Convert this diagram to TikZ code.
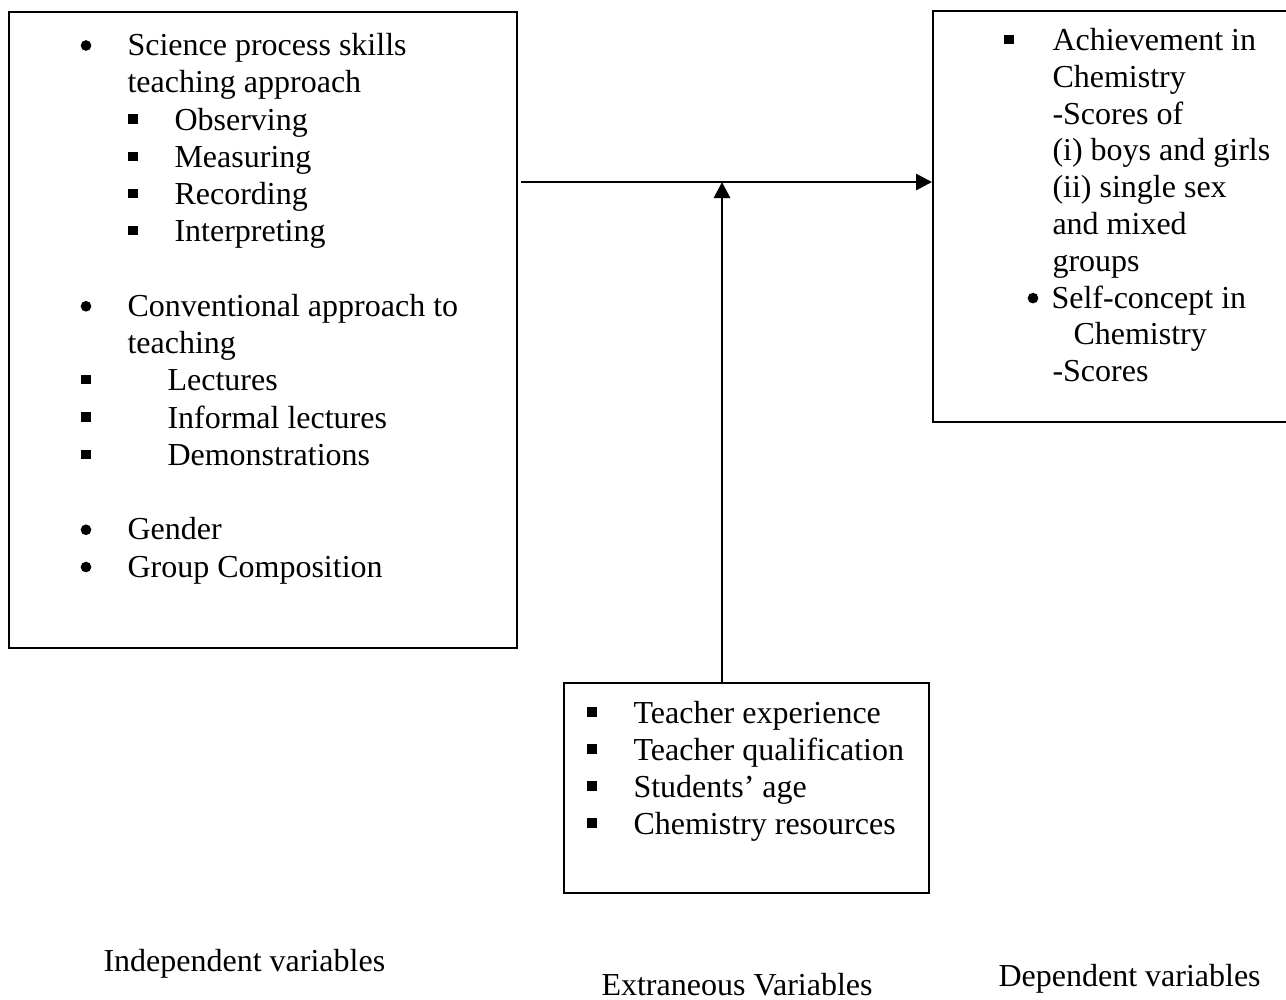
\documentclass[tikz,border=0pt]{standalone}
\usepackage{fontspec}
\setmainfont{Liberation Serif}
\usetikzlibrary{arrows.meta,positioning}
\pgfdeclarelayer{edgelayer}
\pgfdeclarelayer{nodelayer}
\pgfsetlayers{edgelayer,nodelayer,main}
\tikzstyle{none}=[inner sep=0mm]
\tikzstyle{txt}=[none,anchor=base west,font=\fontsize{12}{14}\selectfont]
\tikzstyle{box}=[draw=black,line width=0.75pt,shape=rectangle,inner sep=0pt]
\tikzstyle{bul}=[inner sep=0pt,minimum size=4pt,fill=black,shape=circle]
\tikzstyle{sqbul}=[inner sep=0pt,minimum size=3.4pt,fill=black,shape=rectangle]
\tikzstyle{arr}=[line width=1.1pt,-{Triangle[length=6pt,width=6pt]}]

\begin{document}
\begin{tikzpicture}[x=0.375pt,y=-0.375pt]
	\useasboundingbox (0,0) rectangle (1286,999);
	\begin{pgfonlayer}{nodelayer}
		% boxes
		\node [style=box, minimum width=190.5pt, minimum height=238.5pt] (ind) at (263, 330) {};
		\node [style=box, minimum width=137.6pt, minimum height=154.1pt] (dep) at (1116.5, 216.5) {};
		\node [style=box, minimum width=136.9pt, minimum height=78.75pt] (ext) at (746.5, 788) {};
		% independent variables
		\node [style=bul] (b1) at (86, 45.5) {};
		\node [style=txt] (i1) at (127, 55.5) {Science process skills};
		\node [style=txt] (i2) at (127, 92.75) {teaching approach};
		\node [style=sqbul] (s1) at (133, 119) {};
		\node [style=txt] (i3) at (174, 130) {Observing};
		\node [style=sqbul] (s2) at (133, 156.25) {};
		\node [style=txt] (i4) at (174, 167.25) {Measuring};
		\node [style=sqbul] (s3) at (133, 193.5) {};
		\node [style=txt] (i5) at (174, 204.5) {Recording};
		\node [style=sqbul] (s4) at (133, 230.75) {};
		\node [style=txt] (i6) at (174, 241.75) {Interpreting};
		\node [style=bul] (b2) at (86, 306.25) {};
		\node [style=txt] (i7) at (127, 316.25) {Conventional approach to};
		\node [style=txt] (i8) at (127, 353.5) {teaching};
		\node [style=sqbul] (s5) at (86, 379.75) {};
		\node [style=txt] (i9) at (167, 390.75) {Lectures};
		\node [style=sqbul] (s6) at (86, 417) {};
		\node [style=txt] (i10) at (167, 428) {Informal lectures};
		\node [style=sqbul] (s7) at (86, 454.25) {};
		\node [style=txt] (i11) at (167, 465.25) {Demonstrations};
		\node [style=bul] (b3) at (86, 529.75) {};
		\node [style=txt] (i12) at (127, 539.75) {Gender};
		\node [style=bul] (b4) at (86, 567) {};
		\node [style=txt] (i13) at (127, 577) {Group Composition};
		% dependent variables
		\node [style=sqbul] (s8) at (1009, 39.5) {};
		\node [style=txt] (d1) at (1052, 50.5) {Achievement in};
		\node [style=txt] (d2) at (1052, 87.3) {Chemistry};
		\node [style=txt] (d3) at (1052, 124.1) {-Scores of};
		\node [style=txt] (d4) at (1052, 160.9) {(i) boys and girls};
		\node [style=txt] (d5) at (1052, 197.7) {(ii) single sex};
		\node [style=txt] (d6) at (1052, 234.5) {and mixed};
		\node [style=txt] (d7) at (1052, 271.3) {groups};
		\node [style=bul] (b5) at (1033, 298.1) {};
		\node [style=txt] (d8) at (1051, 308.1) {Self-concept in};
		\node [style=txt] (d9) at (1073, 344.9) {Chemistry};
		\node [style=txt] (d10) at (1052, 381.7) {-Scores};
		% extraneous variables
		\node [style=sqbul] (s9) at (592, 712) {};
		\node [style=txt] (e1) at (633, 723) {Teacher experience};
		\node [style=sqbul] (s10) at (592, 749) {};
		\node [style=txt] (e2) at (633, 760) {Teacher qualification};
		\node [style=sqbul] (s11) at (592, 786) {};
		\node [style=txt] (e3) at (633, 797) {Students’ age};
		\node [style=sqbul] (s12) at (592, 823) {};
		\node [style=txt] (e4) at (633, 834) {Chemistry resources};
		% captions
		\node [style=txt] (lind) at (103, 971) {Independent variables};
		\node [style=txt, text depth=0pt] (lext) at (601, 995) {Extraneous Variables};
		\node [style=txt] (ldep) at (998, 986) {Dependent variables};
	\end{pgfonlayer}
	\begin{pgfonlayer}{edgelayer}
		\coordinate (st) at (521, 182);
		\coordinate (jn) at (722, 182);
		\draw [style=arr] (st) to (dep.west |- jn);
		\draw [style=arr] (ext.north -| jn) to (jn);
	\end{pgfonlayer}
\end{tikzpicture}
\end{document}
